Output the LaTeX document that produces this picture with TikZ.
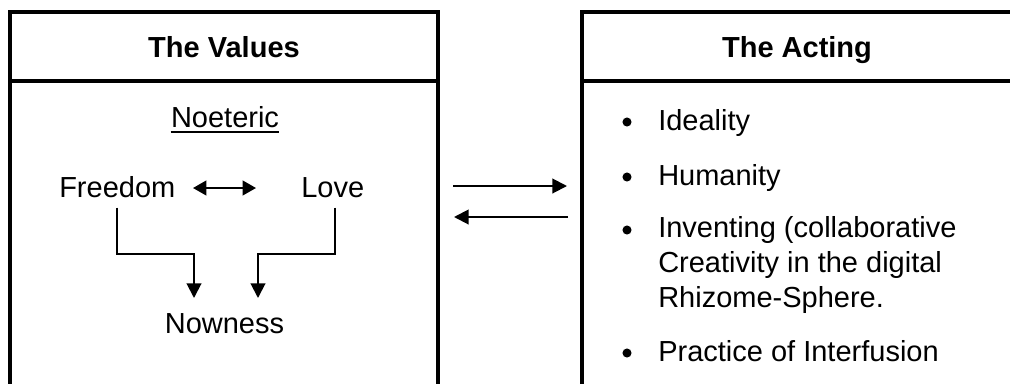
\documentclass[tikz,border=0pt]{standalone}
\usepackage{fontspec}
\setmainfont{Liberation Sans}
\usetikzlibrary{arrows.meta}
\begin{document}
\begin{tikzpicture}[x=0.75pt,y=-0.75pt,
  txt/.style={inner sep=0pt, font=\fontsize{21.75}{25.9}\selectfont},
  frame/.style={line width=2.6pt},
  arr/.style={line width=1.5pt, -{Triangle[length=11pt,width=11pt]}},
  dbl/.style={line width=1.5pt, {Triangle[length=10pt,width=11pt]}-{Triangle[length=10pt,width=11pt]}},
  bul/.style={circle, fill, inner sep=0pt, minimum size=6.8pt},
]
\useasboundingbox (0,0) rectangle (1010,383);

% left box
\draw[frame] (10,390) -- (10,12) -- (438,12) -- (438,390);
\draw[frame] (10,81) -- (438,81);
% right box
\draw[frame] (582,390) -- (582,12) -- (1020,12);
\draw[frame] (582,81) -- (1020,81);

% headers
\node[txt, anchor=base] (tv) at (224,57) {\bfseries The Values};
\node[txt, anchor=base] (ta) at (797,57) {\bfseries The Acting};

% left content
\node[txt, anchor=base] (noet) at (225,127) {Noeteric};
\draw[line width=1.5pt] ([yshift=-3.6pt]noet.base west) -- ([yshift=-3.6pt]noet.base east);

\node[txt, anchor=base west] (fr) at (59,197) {Freedom};
\node[txt, anchor=base west] (lo) at (301,197) {Love};
\node[txt, anchor=base] (now) at (224.5,333) {Nowness};

\coordinate (dl) at (193,188);
\coordinate (dr) at (256,188);
\draw[dbl] (dl) -- (dr);

\coordinate (fb) at (194,254);
\coordinate (nl) at (194,298);
\coordinate (lb) at (258,254);
\coordinate (nr) at (258,298);
\draw[arr] ([yshift=-7.5pt]fr.south) |- (fb) -- (nl);
\draw[arr] ([xshift=1.9pt,yshift=-7.5pt]lo.south) |- (lb) -- (nr);

% middle arrows
\coordinate (m1a) at (453,186);
\coordinate (m1b) at (567,186);
\coordinate (m2a) at (568,217);
\coordinate (m2b) at (454,217);
\draw[arr] (m1a) -- (m1b);
\draw[arr] (m2a) -- (m2b);

% right content
\node[bul] (b1) at (627,122) {};
\node[bul] (b2) at (627,177) {};
\node[bul] (b3) at (627,230) {};
\node[bul] (b4) at (627,353) {};
\node[txt, anchor=base west] (i1) at (658,130) {Ideality};
\node[txt, anchor=base west] (i2) at (658,185) {Humanity};
\node[txt, anchor=base west, align=left] (i3) at (658,307) {Inventing (collaborative\\Creativity in the digital\\Rhizome-Sphere.};
\node[txt, anchor=base west] (i4) at (658,361) {Practice of Interfusion};
\end{tikzpicture}
\end{document}
